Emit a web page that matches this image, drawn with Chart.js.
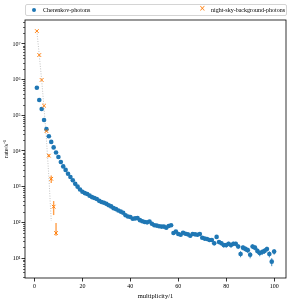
<!DOCTYPE html>
<html>
<head>
<meta charset="utf-8">
<script src="https://cdn.jsdelivr.net/npm/chart.js@4.4.1/dist/chart.umd.min.js"></script>
<style>
  html, body { margin: 0; padding: 0; background: #fff; }
  #wrap { position: relative; width: 292px; height: 301px; }
  #legend {
    position: absolute; left: 25px; top: 4px; width: 260px; height: 10px;
    border: 1px solid #d4d4d4; border-radius: 2px; background: #fff;
    font: 6px "Liberation Serif", serif; color: #000;
  }
  .item { position: absolute; top: 1px; white-space: nowrap; line-height: 8px; }
  .dot { position: absolute; width: 4.6px; height: 4.6px; border-radius: 50%; background: #1f77b4; top: 2.5px; }
  .cross { position: absolute; color: #ff7f0e; font: 8px "DejaVu Sans", sans-serif; top: -1px; line-height: 10px; }
</style>
</head>
<body>
<div id="wrap">
  <canvas id="chart" width="292" height="301"></canvas>
  <div id="legend">
    <span class="dot" style="left:5.5px"></span>
    <span class="item" style="left:17px">Cherenkov-photons</span>
    <span class="cross" style="left:173px">×</span>
    <span class="item" style="left:185px">night-sky-background-photons</span>
  </div>
</div>
<script>
const multiplicity = [
  1, 2, 3, 4, 5, 6, 7, 8, 9, 10,
  11, 12, 13, 14, 15, 16, 17, 18, 19, 20,
  21, 22, 23, 24, 25, 26, 27, 28, 29, 30,
  31, 32, 33, 34, 35, 36, 37, 38, 39, 40,
  41, 42, 43, 44, 45, 46, 47, 48, 49, 50,
  51, 52, 53, 54, 55, 56, 57, 58, 59, 60,
  61, 62, 63, 64, 65, 66, 67, 68, 69, 70,
  71, 72, 73, 74, 75, 76, 77, 78, 79, 80,
  81, 82, 83, 84, 85, 86, 87, 88, 89, 90,
  91, 92, 93, 94, 95, 96, 97, 98, 99, 100
];
const cherenkovRate = [
  5.9e5, 2.7e5, 1.5e5, 7.4e4, 4.1e4, 2.6e4, 1.8e4, 1.26e4, 9100, 6800,
  4900, 3700, 2950, 2300, 1860, 1510, 1200, 1000, 830, 720,
  660, 620, 560, 510, 480, 450, 400, 370, 355, 330,
  300, 280, 250, 235, 215, 200, 186, 158, 145, 141,
  126, 129, 132, 115, 107, 102, 100, 105, 91, 83,
  81, 78, 76, 76, 71, 79, 83, 50, 55, 47,
  45, 51, 48, 46, 42, 47, 46, 45, 47, 37,
  35, 34, 32, 32, 26, 39, 28, 26, 23, 23,
  25, 23, 25, 25, 21, 13, 19.5, 18, 16.6, 12.3,
  21, 19.5, 15.8, 13.8, 14.8, 15.8, 17.8, 12.9, 7.9, 15.1
];
const cherenkovErr = [
  540, 360, 270, 190, 140, 113, 94, 79, 67, 58,
  49, 43, 38, 34, 30, 27, 24, 22, 20, 19,
  18, 17.4, 16.6, 15.8, 15.3, 14.8, 14, 13.5, 13.2, 12.7,
  12.1, 11.7, 11, 10.7, 10.3, 9.9, 9.5, 8.8, 8.4, 8.3,
  7.9, 8, 8, 7.5, 7.2, 7.1, 7, 7.2, 6.7, 6.4,
  6.3, 6.2, 6.1, 6.1, 5.9, 6.2, 6.4, 5, 5.2, 4.8,
  4.7, 5, 4.9, 4.7, 4.5, 4.8, 4.7, 4.7, 4.8, 4.3,
  4.1, 4.1, 4, 4, 3.6, 4.4, 3.7, 3.6, 3.4, 3.4,
  3.5, 3.4, 3.5, 3.5, 3.2, 2.5, 3.1, 3, 2.9, 2.5,
  3.2, 3.1, 2.8, 2.6, 2.7, 2.8, 3, 2.5, 2, 2.7
];
const nsbMultiplicity = [1, 2, 3, 4, 5, 6, 7, 8, 9];
const nsbRate = [2.3e7, 4.9e6, 9.8e5, 1.86e5, 3.6e4, 7400, 1660, 275, 50];
const nsbErrUp = [4000, 2000, 900, 400, 2000, 700, 390, 120, 46];
const nsbErrDown = [4000, 2000, 900, 400, 2000, 700, 390, 115, 8];
const nsbModelMultiplicity = [1, 2, 3, 4, 5, 6, 7];
const nsbModelRate = [2.3e7, 4.9e6, 9.8e5, 1.6e5, 2.1e4, 1900, 110];
const xTicks = [0, 20, 40, 60, 80, 100];
const yTicks = [1e1, 1e2, 1e3, 1e4, 1e5, 1e6, 1e7];
const superscripts = ['⁰', '¹', '²', '³', '⁴', '⁵', '⁶', '⁷', '⁸', '⁹'];

const font = { family: '"Liberation Serif", serif', size: 6 };

const toPoints = (xs, ys) => xs.map((x, i) => ({ x, y: ys[i] }));

const errorBars = {
  id: 'errorBars',
  beforeDatasetsDraw (chart) {
    const { ctx, chartArea, scales } = chart;
    ctx.save();
    ctx.beginPath();
    ctx.rect(chartArea.left, chartArea.top, chartArea.width, chartArea.height);
    ctx.clip();
    chart.data.datasets.forEach(ds => {
      if (!ds.errUp) return;
      ctx.strokeStyle = ds.errColor;
      ctx.lineWidth = ds.errWidth;
      ds.data.forEach((p, i) => {
        const px = scales.x.getPixelForValue(p.x);
        const top = scales.y.getPixelForValue(p.y + ds.errUp[i]);
        const low = Math.max(p.y - ds.errDown[i], scales.y.min);
        const bottom = scales.y.getPixelForValue(low);
        ctx.beginPath();
        ctx.moveTo(px, top);
        ctx.lineTo(px, bottom);
        ctx.stroke();
      });
    });
    ctx.restore();
  }
};

const frame = {
  id: 'frame',
  afterDraw (chart) {
    const { ctx, chartArea, scales } = chart;
    ctx.save();
    ctx.strokeStyle = '#000';
    ctx.lineWidth = 0.8;
    ctx.strokeRect(chartArea.left, chartArea.top, chartArea.width, chartArea.height);
    // minor log ticks
    ctx.lineWidth = 0.6;
    for (let e = 0; e < 8; e++) {
      for (let k = 2; k < 10; k++) {
        const v = k * Math.pow(10, e);
        if (v < scales.y.min || v > scales.y.max) continue;
        const py = Math.round(scales.y.getPixelForValue(v)) + 0.5;
        ctx.beginPath();
        ctx.moveTo(chartArea.left - 2, py);
        ctx.lineTo(chartArea.left, py);
        ctx.stroke();
      }
    }
    ctx.restore();
  }
};

new Chart(document.getElementById('chart'), {
  type: 'scatter',
  data: {
    datasets: [
      {
        label: 'model',
        data: toPoints(nsbModelMultiplicity, nsbModelRate),
        showLine: true,
        borderColor: 'rgba(160,160,160,0.8)',
        borderWidth: 0.8,
        borderDash: [1, 1.5],
        pointRadius: 0,
        order: 3
      },
      {
        label: 'Cherenkov-photons',
        data: toPoints(multiplicity, cherenkovRate),
        backgroundColor: '#1f77b4',
        borderWidth: 0,
        pointRadius: 2.3,
        errUp: cherenkovErr,
        errDown: cherenkovErr,
        errColor: 'rgba(31,119,180,0.85)',
        errWidth: 1,
        order: 2
      },
      {
        label: 'night-sky-background-photons',
        data: toPoints(nsbMultiplicity, nsbRate),
        pointStyle: 'crossRot',
        borderColor: '#ff7f0e',
        backgroundColor: '#ff7f0e',
        borderWidth: 1,
        pointRadius: 2.6,
        errUp: nsbErrUp,
        errDown: nsbErrDown,
        errColor: 'rgba(255,127,14,0.75)',
        errWidth: 1.4,
        order: 1
      }
    ]
  },
  plugins: [errorBars, frame],
  options: {
    responsive: false,
    animation: false,
    layout: { padding: { left: 0, right: 6, top: 20, bottom: 0 } },
    plugins: {
      legend: { display: false },
      tooltip: { enabled: false }
    },
    scales: {
      x: {
        type: 'linear',
        min: -3.95,
        max: 104.95,
        afterBuildTicks: axis => { axis.ticks = xTicks.map(value => ({ value })); },
        afterFit: scale => { scale.height = 23; },
        border: { display: false },
        grid: { drawOnChartArea: false, drawTicks: true, tickLength: 3.5, tickColor: '#000', tickWidth: 0.8 },
        ticks: { font, color: '#000', padding: 1, maxRotation: 0, autoSkip: false },
        title: { display: true, text: 'multiplicity/1', font: { ...font, size: 6.5 }, color: '#000', padding: { top: 0, bottom: 1 } }
      },
      y: {
        type: 'logarithmic',
        min: 2.75,
        max: 4.7e7,
        afterBuildTicks: axis => { axis.ticks = yTicks.map(value => ({ value, major: true })); },
        afterFit: scale => { scale.width = 25; },
        border: { display: false },
        grid: { drawOnChartArea: false, drawTicks: true, tickLength: 3.5, tickColor: '#000', tickWidth: 0.8 },
        ticks: {
          font, color: '#000', padding: 1, autoSkip: false,
          callback: value => '10' + superscripts[Math.round(Math.log10(value))]
        },
        title: { display: true, text: 'rate/s⁻¹', font: { ...font, size: 6.5 }, color: '#000', padding: { top: 2, bottom: 0 } }
      }
    }
  }
});
</script>
</body>
</html>
